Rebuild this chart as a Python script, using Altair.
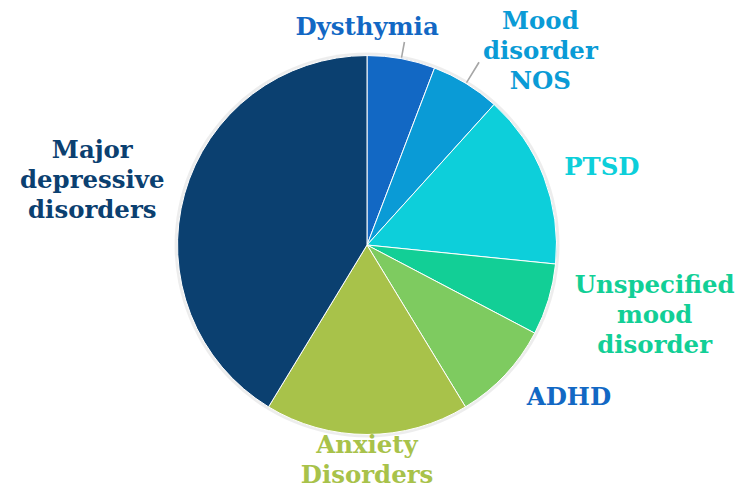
import altair as alt
import pandas as pd

categories = ["Dysthymia", "Mood disorder NOS", "PTSD", "Unspecified mood disorder",
              "ADHD", "Anxiety Disorders", "Major depressive disorders"]
values = [5.8, 5.9, 14.9, 6.1, 8.6, 17.4, 41.3]
label_lines = ["Dysthymia", "Mood\ndisorder\nNOS", "PTSD", "Unspecified\nmood\ndisorder",
               "ADHD", "Anxiety\nDisorders", "Major\ndepressive\ndisorders"]
slice_colors = ["#1268C4", "#0A9BD6", "#0DCFDA", "#12CF96", "#7ECB60", "#A8C24A", "#0B4070"]
label_colors = ["#1268C4", "#0A9BD6", "#0DCFDA", "#12CF96", "#1268C4", "#A8C24A", "#0B4070"]

df = pd.DataFrame({"category": categories, "value": values,
                   "order": list(range(len(categories))), "label": label_lines})

# label placement: (radius from centre, dx, dy)
label_layout = {
    "Dysthymia": (221, -40, 0),
    "Mood disorder NOS": (260, 38, -2),
    "PTSD": (247, 5, 12),
    "Unspecified mood disorder": (297, 4, -44),
    "ADHD": (253, 18, -20),
    "Anxiety Disorders": (220, 0, -18),
    "Major depressive disorders": (283, -3, -18),
}
leader_layout = {"Dysthymia": 207, "Mood disorder NOS": 215}

R = 190

base = (
    alt.Chart(df)
    .transform_window(cum="sum(value)", sort=[alt.SortField("order")], frame=[None, 0])
    .transform_joinaggregate(total="sum(value)")
    .transform_calculate(
        start="(datum.cum - datum.value) / datum.total * 2 * PI",
        end="datum.cum / datum.total * 2 * PI",
        mid="(datum.cum - datum.value / 2) / datum.total * 2 * PI",
    )
)

shadow = base.transform_filter(alt.datum.order == 0).mark_arc(
    radius=R + 3, color="#000000", opacity=0.07
).encode(theta=alt.value(0), theta2=alt.value(6.2832))

pie = base.mark_arc(radius=R, stroke="white", strokeWidth=1).encode(
    theta=alt.Theta("start:Q", scale=None),
    theta2="end:Q",
    color=alt.Color("category:N", scale=alt.Scale(domain=categories, range=slice_colors), legend=None),
)

layers = [shadow, pie]
for cat, rout in leader_layout.items():
    layers.append(
        base.transform_filter(alt.datum.category == cat)
        .transform_calculate(t1="datum.mid - 0.004", t2="datum.mid + 0.004")
        .mark_arc(radius=rout, radius2=R + 1, color="#A6A6A6")
        .encode(theta=alt.Theta("t1:Q", scale=None), theta2="t2:Q")
    )

for cat, col in zip(categories, label_colors):
    r, dx, dy = label_layout[cat]
    layers.append(
        base.transform_filter(alt.datum.category == cat)
        .mark_text(radius=r, dx=dx, dy=dy, font="DejaVu Serif", fontWeight="bold",
                   fontSize=24.5, lineBreak="\n", lineHeight=30, align="center",
                   baseline="middle", color=col)
        .encode(theta=alt.Theta("mid:Q", scale=None), text="label:N")
    )

chart = (
    alt.layer(*layers)
    .properties(width=720, height=474, autosize="none",
                padding={"left": 0, "top": 0, "right": 10, "bottom": 9})
    .configure_view(stroke=None)
)

chart.save("out.html", embed_options={"renderer": "svg", "actions": False})
